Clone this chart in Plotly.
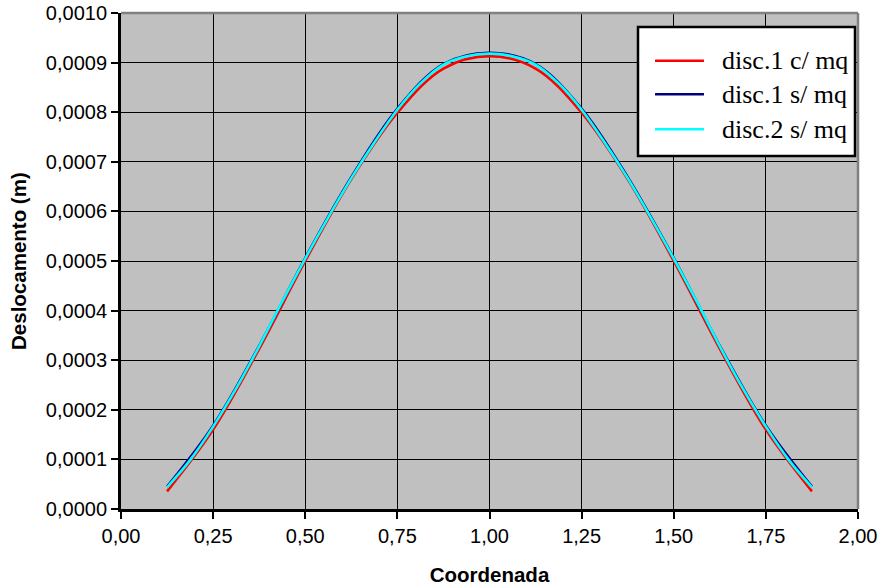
import plotly.graph_objects as go

# Coordinates along the beam (m)
x_disc1 = [0.125, 0.25, 0.375, 0.5, 0.625, 0.75, 0.875, 1.0,
           1.125, 1.25, 1.375, 1.5, 1.625, 1.75, 1.875]
x_disc2 = [0.125, 0.1875, 0.25, 0.3125, 0.375, 0.4375, 0.5, 0.5625,
           0.625, 0.6875, 0.75, 0.8125, 0.875, 0.9375, 1.0,
           1.0625, 1.125, 1.1875, 1.25, 1.3125, 1.375, 1.4375, 1.5,
           1.5625, 1.625, 1.6875, 1.75, 1.8125, 1.875]

# Displacements (m)
y_disc1_cmq = [0.0000355, 0.000160, 0.000323, 0.000500, 0.000665, 0.000799, 0.000888, 0.000913,
               0.000888, 0.000799, 0.000665, 0.000500, 0.000323, 0.000160, 0.0000355]
y_disc1_smq = [0.0000450, 0.000168, 0.000329, 0.000506, 0.000669, 0.000807, 0.000897, 0.000920,
               0.000897, 0.000807, 0.000669, 0.000506, 0.000329, 0.000168, 0.0000450]
y_disc2_smq = [0.0000437, 0.0000985, 0.000166, 0.000243, 0.000328, 0.000418, 0.000505, 0.000588,
               0.000667, 0.000739, 0.000805, 0.000858, 0.000896, 0.000913, 0.000918,
               0.000913, 0.000896, 0.000858, 0.000805, 0.000739, 0.000667, 0.000588, 0.000505,
               0.000418, 0.000328, 0.000243, 0.000166, 0.0000985, 0.0000437]

series_names = ["disc.1 c/ mq", "disc.1 s/ mq", "disc.2 s/ mq"]
series_colors = ["#FF0000", "#000080", "#00FFFF"]

x_ticks = [0.0, 0.25, 0.5, 0.75, 1.0, 1.25, 1.5, 1.75, 2.0]
y_ticks = [i * 0.0001 for i in range(11)]

fig = go.Figure()
for xs, ys, name, color in zip([x_disc1, x_disc1, x_disc2],
                               [y_disc1_cmq, y_disc1_smq, y_disc2_smq],
                               series_names, series_colors):
    fig.add_trace(go.Scatter(x=xs, y=ys, mode="lines", name=name,
                             line=dict(color=color, width=2.6, shape="spline", smoothing=1.0),
                             showlegend=False))

tick_font = dict(family="Arial, Liberation Sans, sans-serif", size=20, color="black")
title_font = dict(family="Arial, Liberation Sans, sans-serif", size=20.5, color="black")

fig.update_xaxes(range=[0, 2], tickvals=x_ticks, tickformat=".2f", automargin=False,
                 showgrid=True, gridcolor="black", gridwidth=1,
                 showline=True, linecolor="black", linewidth=3,
                 ticks="outside", ticklen=7, tickwidth=2, tickcolor="black",
                 tickfont=tick_font, zeroline=False,
                 title=dict(text="<b>Coordenada</b>", font=title_font, standoff=22))
fig.update_yaxes(range=[0, 0.001], tickvals=y_ticks, tickformat=".4f", automargin=False,
                 showgrid=True, gridcolor="black", gridwidth=1,
                 showline=True, linecolor="black", linewidth=3,
                 ticks="outside", ticklen=7, tickwidth=2, tickcolor="black",
                 tickfont=tick_font, zeroline=False)

shapes = [
    # grey frame on the top and right edges of the plot area
    dict(type="line", xref="paper", yref="paper", x0=0, x1=1, y0=1, y1=1,
         line=dict(color="#808080", width=2.5)),
    dict(type="line", xref="paper", yref="paper", x0=1, x1=1, y0=0, y1=1,
         line=dict(color="#808080", width=2.5)),
    # legend box
    dict(type="rect", xref="paper", yref="paper", x0=0.7015, x1=0.9959, y0=0.7117, y1=0.9718,
         fillcolor="white", line=dict(color="black", width=2.5)),
]
annotations = [
    # vertical axis title
    dict(xref="paper", yref="paper", x=-0.1398, y=0.5, xanchor="center", yanchor="middle",
         textangle=-90, showarrow=False, text="<b>Deslocamento (m)</b>", font=title_font),
]
legend_rows = [0.9038, 0.8361, 0.7655]
for name, color, yr in zip(series_names, series_colors, legend_rows):
    shapes.append(dict(type="line", xref="paper", yref="paper", x0=0.7246, x1=0.7910,
                       y0=yr, y1=yr, line=dict(color=color, width=2.6)))
    annotations.append(dict(xref="paper", yref="paper", x=0.8128, y=yr, xanchor="left",
                            yanchor="middle", showarrow=False, text=name,
                            font=dict(family="Times New Roman, Liberation Serif, serif",
                                      size=26, color="black")))

fig.update_layout(width=882, height=588,
                  margin=dict(l=121, r=24, t=13, b=79),
                  paper_bgcolor="white", plot_bgcolor="#C0C0C0",
                  separators=",.", showlegend=False,
                  shapes=shapes, annotations=annotations)

fig.write_html("out.html")
